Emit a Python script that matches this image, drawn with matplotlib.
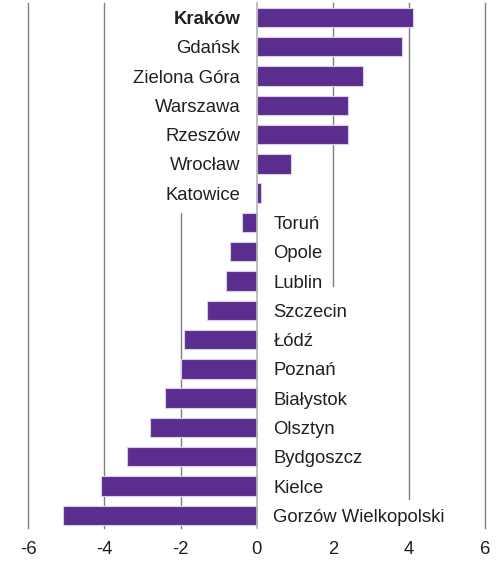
import matplotlib.pyplot as plt

plt.rcParams['font.family'] = ['Liberation Sans', 'DejaVu Sans']

# dane
cities = ['Kraków', 'Gdańsk', 'Zielona Góra', 'Warszawa', 'Rzeszów', 'Wrocław',
          'Katowice', 'Toruń', 'Opole', 'Lublin', 'Szczecin', 'Łódź', 'Poznań',
          'Białystok', 'Olsztyn', 'Bydgoszcz', 'Kielce', 'Gorzów Wielkopolski']
values = [4.1, 3.8, 2.8, 2.4, 2.4, 0.9, 0.1, -0.4, -0.7, -0.8, -1.3, -1.9,
          -2.0, -2.4, -2.8, -3.4, -4.1, -5.1]
xticks = [-6, -4, -2, 0, 2, 4, 6]
xtick_labels = ['-6', '-4', '-2', '0', '2', '4', '6']

bar_color = '#5b2d8e'
text_color = '#231f20'
fs = 13.3

fig = plt.figure(figsize=(4.97, 5.64), dpi=100)
ax = fig.add_axes([0.057, 0.063, 0.9195, 0.931])

pos = list(range(len(cities)))
ylo, yhi = len(cities) - 0.55, -0.48

# linie siatki (linia przy 2 kończy się pod etykietą "Lublin")
for t in xticks:
    if t == 0:
        continue
    if t == 2:
        ax.plot([t, t], [yhi, 9.18], color='#808080', lw=1.0, zorder=1,
                clip_on=False)
    else:
        ax.axvline(t, color='#808080', lw=1.0, zorder=1, clip_on=False)
ax.axvline(0, color='#b4b4b4', lw=1.2, zorder=4, clip_on=False)

ax.barh(pos, values, height=0.66, color=bar_color, edgecolor='#d8cfe8',
        linewidth=0.8, zorder=3)

# etykiety miast przy osi zero (białe tło zasłania siatkę)
for i, (name, v) in enumerate(zip(cities, values)):
    if v >= 0:
        off, ha = -12, 'right'
    else:
        off, ha = 12, 'left'
    ax.annotate(name, xy=(0, i), xytext=(off, 0), textcoords='offset points',
                ha=ha, va='center_baseline', fontsize=fs, color=text_color,
                fontweight='bold' if i == 0 else 'normal', zorder=2,
                bbox=dict(boxstyle='square,pad=0.5', fc='white', ec='none'))

ax.set_xlim(-6, 6)
ax.set_ylim(ylo, yhi)
ax.set_xticks(xticks)
ax.set_xticklabels(xtick_labels, fontsize=fs, color=text_color)
ax.set_yticks([])
ax.tick_params(axis='x', length=0, pad=9)
for s in ax.spines.values():
    s.set_visible(False)

fig.savefig('out.png', dpi=100)
